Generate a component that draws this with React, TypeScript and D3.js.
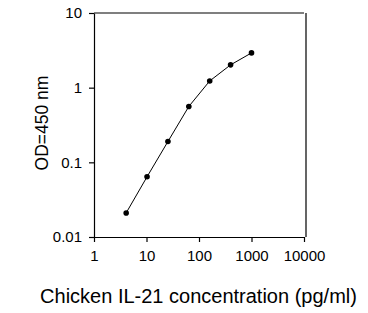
import * as d3 from "d3";
import { useEffect, useRef } from "react";

const concentration = [4.1, 10.24, 25.6, 64, 160, 400, 1000];
const od = [0.021, 0.064, 0.19, 0.56, 1.23, 2.02, 2.92];
const xTicks = [1, 10, 100, 1000, 10000];
const yTicks = [0.01, 0.1, 1, 10];

export default function App() {
  const ref = useRef<SVGSVGElement>(null);
  const width = 368;
  const height = 313;

  useEffect(() => {
    const svg = d3.select(ref.current);
    svg.selectAll("*").remove();

    const x = d3.scaleLog().domain([1, 10000]).range([94, 304]);
    const y = d3.scaleLog().domain([0.01, 10]).range([237, 13]);
    const font = "'Liberation Sans', Arial, sans-serif";

    svg
      .append("rect")
      .attr("width", width)
      .attr("height", height)
      .attr("fill", "#fff");

    const xAxis = svg
      .append("g")
      .attr("transform", `translate(0,${y(0.01)})`)
      .call(
        d3
          .axisBottom(x)
          .tickValues(xTicks)
          .tickFormat((d) => String(d))
          .tickSizeInner(5)
          .tickSizeOuter(0)
          .tickPadding(8)
      );
    const yAxis = svg
      .append("g")
      .attr("transform", `translate(${x(1)},0)`)
      .call(
        d3
          .axisLeft(y)
          .tickValues(yTicks)
          .tickFormat((d) => String(d))
          .tickSizeInner(5)
          .tickSizeOuter(0)
          .tickPadding(7)
      );
    [xAxis, yAxis].forEach((g) => {
      g.selectAll("path, line").attr("stroke", "#000").attr("stroke-width", 1.2);
      g.selectAll("text")
        .attr("fill", "#000")
        .attr("font-family", font)
        .attr("font-size", 15);
    });

    // frame: top and right
    svg
      .append("path")
      .attr("d", `M${x(1)},${y(10)}H${x(10000)}M${x(10000) + 2},${y(10)}V${y(0.01)}`)
      .attr("stroke", "#000")
      .attr("stroke-width", 1.2)
      .attr("fill", "none");

    const pts = concentration.map((c, i) => [c, od[i]] as [number, number]);

    svg
      .append("path")
      .datum(pts)
      .attr("fill", "none")
      .attr("stroke", "#000")
      .attr("stroke-width", 1)
      .attr(
        "d",
        d3
          .line<[number, number]>()
          .x((d) => x(d[0]))
          .y((d) => y(d[1]))
      );

    svg
      .append("g")
      .selectAll("circle")
      .data(pts)
      .join("circle")
      .attr("cx", (d) => x(d[0]))
      .attr("cy", (d) => y(d[1]))
      .attr("r", 2.8)
      .attr("fill", "#000");

    svg
      .append("text")
      .attr("x", 198.5)
      .attr("y", 303)
      .attr("text-anchor", "middle")
      .attr("font-family", font)
      .attr("font-size", 20)
      .attr("fill", "#000")
      .text("Chicken IL-21 concentration (pg/ml)");

    svg
      .append("text")
      .attr("transform", `translate(48,123) rotate(-90)`)
      .attr("text-anchor", "middle")
      .attr("font-family", font)
      .attr("font-size", 17.5)
      .attr("fill", "#000")
      .text("OD=450 nm");
  }, []);

  return (
    <svg
      ref={ref}
      width={width}
      height={height}
      style={{ position: "absolute", left: 0, top: 0 }}
    />
  );
}
